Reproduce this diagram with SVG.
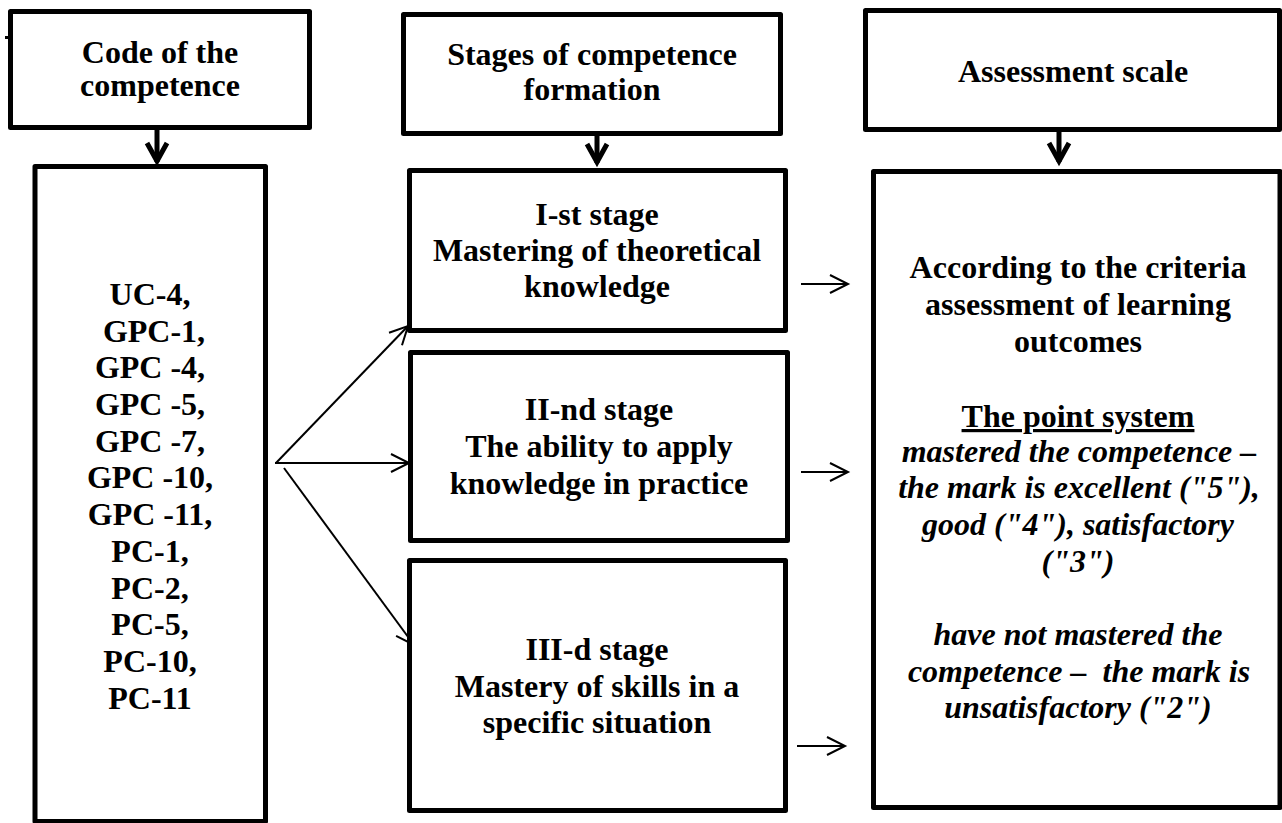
<svg xmlns="http://www.w3.org/2000/svg" width="1282" height="823" viewBox="0 0 1282 823">
<defs>
<marker id="open" markerUnits="userSpaceOnUse" viewBox="-20 -12 22 24" markerWidth="22" markerHeight="24" refX="0" refY="0" orient="auto" overflow="visible">
<path d="M-18,-9 L0,0 L-18,9" fill="none" stroke="#000" stroke-width="2"/>
</marker>
<marker id="thick" markerUnits="userSpaceOnUse" viewBox="-20 -14 22 28" markerWidth="22" markerHeight="28" refX="0" refY="0" orient="auto" overflow="visible">
<path d="M-19,-10 L-1,0 L-19,10" fill="none" stroke="#000" stroke-width="5" stroke-linejoin="miter"/>
</marker>
</defs>
<style>
.box{fill:#fff;stroke:#000;stroke-width:5;stroke-linejoin:round}
.t{font-family:"Liberation Serif","Times New Roman",serif;font-weight:bold;font-size:32px;text-anchor:middle;fill:#000}
.i{font-style:italic}
.thin{stroke:#000;stroke-width:2;fill:none}
.fat{stroke:#000;stroke-width:5;fill:none}
</style>
<rect x="0" y="0" width="1282" height="823" fill="#fff"/>
<g id="connectors">
<line class="fat" x1="157" y1="128" x2="157" y2="162" marker-end="url(#thick)"/>
<line class="fat" x1="597" y1="134" x2="597" y2="163" marker-end="url(#thick)"/>
<line class="fat" x1="1059" y1="130" x2="1059" y2="162" marker-end="url(#thick)"/>
<line class="thin" x1="276" y1="463" x2="408" y2="326" marker-end="url(#open)"/>
<line class="thin" x1="275" y1="463" x2="409" y2="463" marker-end="url(#open)"/>
<line class="thin" x1="284" y1="468" x2="414" y2="645" marker-end="url(#open)"/>
<line class="thin" x1="801" y1="284" x2="848" y2="284" marker-end="url(#open)"/>
<line class="thin" x1="801" y1="472" x2="848" y2="472" marker-end="url(#open)"/>
<line class="thin" x1="797" y1="746" x2="845" y2="746" marker-end="url(#open)"/>
</g>
<g id="header-code">
<rect class="box" x="10.5" y="11.5" width="299" height="116"/>
<text class="t" x="160" y="63">Code of the</text>
<text class="t" x="160" y="96">competence</text>
</g>
<line x1="5" y1="37.5" x2="12" y2="37.5" stroke="#000" stroke-width="3"/>
<g id="header-stages">
<rect class="box" x="403.5" y="14.5" width="377" height="119"/>
<text class="t" x="592" y="65">Stages of competence</text>
<text class="t" x="592" y="100">formation</text>
</g>
<g id="header-scale">
<rect class="box" x="865.5" y="10.5" width="414" height="119"/>
<text class="t" x="1073" y="82">Assessment scale</text>
</g>
<g id="codes">
<rect class="box" x="35" y="166.5" width="230.5" height="655"/>
<text class="t" x="150" y="304.5">UC-4,</text>
<text class="t" x="154" y="341.5">GPC-1,</text>
<text class="t" x="150" y="378">GPC -4,</text>
<text class="t" x="150" y="415">GPC -5,</text>
<text class="t" x="150" y="451.5">GPC -7,</text>
<text class="t" x="150" y="488">GPC -10,</text>
<text class="t" x="150" y="525">GPC -11,</text>
<text class="t" x="150" y="562">PC-1,</text>
<text class="t" x="150" y="598.5">PC-2,</text>
<text class="t" x="150" y="635">PC-5,</text>
<text class="t" x="150" y="672">PC-10,</text>
<text class="t" x="150" y="708.5">PC-11</text>
</g>
<g id="stage1">
<rect class="box" x="409.5" y="170.5" width="376" height="160"/>
<text class="t" x="597" y="225">I-st stage</text>
<text class="t" x="597" y="260.5">Mastering of theoretical</text>
<text class="t" x="597" y="297">knowledge</text>
</g>
<g id="stage2">
<rect class="box" x="410.5" y="352.5" width="377" height="188"/>
<text class="t" x="599" y="420">II-nd stage</text>
<text class="t" x="599" y="457">The ability to apply</text>
<text class="t" x="599" y="493.5">knowledge in practice</text>
</g>
<g id="stage3">
<rect class="box" x="409.5" y="560.5" width="376" height="250"/>
<text class="t" x="597" y="660">III-d stage</text>
<text class="t" x="597" y="696.5">Mastery of skills in a</text>
<text class="t" x="597" y="733">specific situation</text>
</g>
<g id="assessment">
<rect class="box" x="873.5" y="171.5" width="406.5" height="636"/>
<text class="t" x="1078" y="278">According to the criteria</text>
<text class="t" x="1078" y="315">assessment of learning</text>
<text class="t" x="1078" y="352">outcomes</text>
<text class="t" x="1078" y="427" text-decoration="underline">The point system</text>
<text class="t i" x="1079" y="462">mastered the competence –</text>
<text class="t i" x="1079" y="498">the mark is excellent ("5"),</text>
<text class="t i" x="1078" y="535">good ("4"), satisfactory</text>
<text class="t i" x="1078" y="572">("3")</text>
<text class="t i" x="1078" y="645">have not mastered the</text>
<text class="t i" x="1079" y="682" xml:space="preserve">competence –  the mark is</text>
<text class="t i" x="1078" y="718">unsatisfactory ("2")</text>
</g>
</svg>
